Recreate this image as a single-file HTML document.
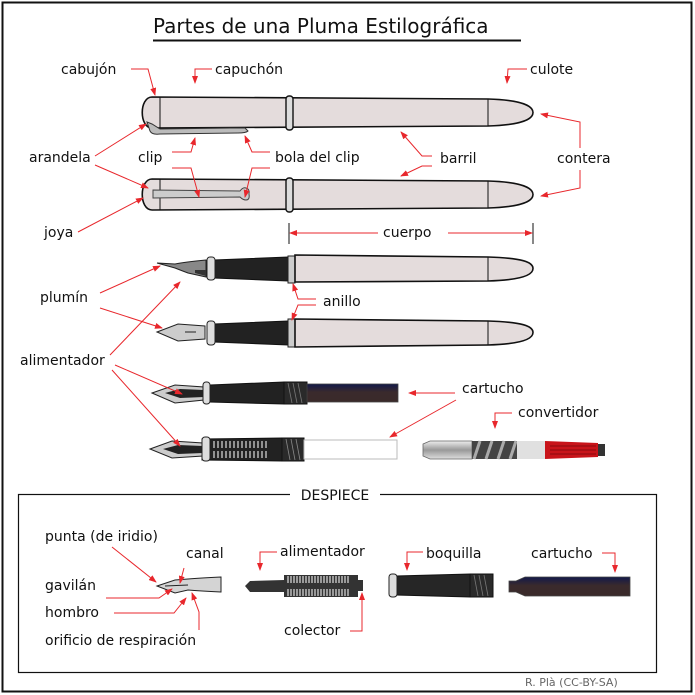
<!DOCTYPE html>
<html><head><meta charset="utf-8"><style>
html,body{margin:0;padding:0;background:#fff}
svg{display:block}
text{font-family:"DejaVu Sans","Liberation Sans",sans-serif;font-size:14px;fill:#111}
.a{fill:none;stroke:#e8272c;stroke-width:1;marker-end:url(#ah)}
.l{fill:none;stroke:#e8272c;stroke-width:1}
.pb{fill:#e4dcdc;stroke:#111;stroke-width:1.6}
</style></head><body>
<svg width="695" height="695" viewBox="0 0 695 695" xmlns="http://www.w3.org/2000/svg">
<defs>
<marker id="ah" markerWidth="8" markerHeight="6" refX="7" refY="3" orient="auto" markerUnits="userSpaceOnUse">
<path d="M0,0 L8,3 L0,6 Z" fill="#e8272c"/></marker>
<linearGradient id="cart" x1="0" y1="0" x2="0" y2="1"><stop offset="0" stop-color="#12194a"/><stop offset="0.45" stop-color="#3a2a2c"/><stop offset="1" stop-color="#3a2a2a"/></linearGradient>
<linearGradient id="met" x1="0" y1="0" x2="0" y2="1"><stop offset="0" stop-color="#eee"/><stop offset="0.5" stop-color="#999"/><stop offset="1" stop-color="#ddd"/></linearGradient>
</defs>
<rect x="2.5" y="2.5" width="689" height="689" fill="none" stroke="#111" stroke-width="2"/>

<text x="153" y="33" style="font-size:20px">Partes de una Pluma Estilográfica</text>
<line x1="153" y1="40.5" x2="521" y2="40.5" stroke="#111" stroke-width="2"/>

<!-- Pen 1 -->
<path class="pb" d="M152,97 L488,99 C522,100 533,106 533,112.5 C533,119 522,125 488,126 L152,128 C139,128 139,97 152,97 Z"/>
<line x1="160" y1="97" x2="160" y2="128" stroke="#111"/>
<line x1="488" y1="99" x2="488" y2="126" stroke="#111"/>
<rect x="286" y="96" width="7" height="34" rx="3" fill="#ddd" stroke="#111" stroke-width="1.4"/>
<path d="M147,122 L150,131 Q152,135 160,134 L238,133 Q246,133 248,131 L245,128 L230,128 L160,129 L152,124 Z" fill="#bbb" stroke="#333" stroke-width="1"/>

<!-- Pen 2 -->
<path class="pb" d="M152,179 L488,181 C522,182 533,188 533,194.5 C533,201 522,207 488,208 L152,210 C139,210 139,179 152,179 Z"/>
<line x1="160" y1="179" x2="160" y2="210" stroke="#111"/>
<line x1="488" y1="181" x2="488" y2="208" stroke="#111"/>
<rect x="286" y="178" width="7" height="34" rx="3" fill="#ddd" stroke="#111" stroke-width="1.4"/>
<path d="M153,190 L240,191 Q243,187 246,188 Q250,189 249,194 Q250,200 246,200 Q243,200 240,197 L153,198 Z" fill="#ccc" stroke="#444" stroke-width="1"/>

<!-- cuerpo -->
<line x1="289" y1="223" x2="289" y2="244" stroke="#111"/>
<line x1="533" y1="223" x2="533" y2="244" stroke="#111"/>
<line class="a" x1="378" y1="233" x2="290" y2="233"/>
<line class="a" x1="448" y1="233" x2="532" y2="233"/>

<!-- Pen 3 -->
<path d="M157,263 L175,264 Q185,262 206,260 L206,277 L188,273 Q180,270 175,268 Z" fill="#888" stroke="#222"/>
<path d="M195,270 L206,270 L206,276 L195,273 Z" fill="#333"/>
<path d="M214,260 L288,257 L288,281 L214,278 Z" fill="#222" stroke="#111"/>
<rect x="207" y="257" width="8" height="23" rx="3" fill="#ddd" stroke="#222"/>
<rect x="288" y="256" width="7" height="27" fill="#ccc" stroke="#222"/>
<path class="pb" d="M295,255 L488,257 C522,258 533,262 533,268.5 C533,275 522,280 488,281 L295,282 Z"/>
<line x1="488" y1="257" x2="488" y2="281" stroke="#111"/>

<!-- Pen 4 -->
<path d="M157,332 L178,324 L205,326 L205,339 L178,341 Z" fill="#ccc" stroke="#222"/>
<line x1="185" y1="332" x2="196" y2="332" stroke="#222"/>
<path d="M214,324 L288,321 L288,345 L214,342 Z" fill="#222" stroke="#111"/>
<rect x="207" y="321" width="8" height="24" rx="3" fill="#ddd" stroke="#222"/>
<rect x="288" y="319" width="7" height="28" fill="#ccc" stroke="#222"/>
<path class="pb" d="M295,319 L488,321 C522,322 533,326 533,332.5 C533,339 522,344 488,345 L295,347 Z"/>
<line x1="488" y1="321" x2="488" y2="345" stroke="#111"/>

<!-- Pen 5 -->
<path d="M152,393 L175,385 L204,387 L204,400 L175,403 Z" fill="#ccc" stroke="#222"/>
<path d="M165,393 L180,389 L204,390 L204,397 L180,398 Z" fill="#222"/>
<path d="M210,385 L284,382 L284,404 L210,402 Z" fill="#222" stroke="#111"/>
<rect x="203" y="382" width="7" height="22" rx="3" fill="#ddd" stroke="#222"/>
<rect x="284" y="382" width="23" height="22" fill="#2a2a2a" stroke="#111"/>
<path d="M288,383 l4,20 M293,383 l4,20 M298,383 l4,20" stroke="#777" stroke-width="0.8"/>
<rect x="307" y="384" width="91" height="18" fill="url(#cart)" stroke="#444" stroke-width="0.8"/>

<!-- Pen 6 -->
<path d="M150,449 L172,441 L203,443 L203,456 L172,458 Z" fill="#ccc" stroke="#222"/>
<path d="M163,449 L178,445 L203,446 L203,453 L178,454 Z" fill="#222"/>
<path d="M202,439 L282,438 L282,461 L202,460 Z" fill="#222" stroke="#111"/>
<rect x="202" y="437" width="8" height="24" rx="3" fill="#ddd" stroke="#222"/>
<path d="M214,441 v7 M218,441 v7 M222,441 v7 M226,441 v7 M230,441 v7 M234,441 v7 M238,441 v7 M242,441 v7 M246,441 v7 M250,441 v7 M254,441 v7 M258,441 v7 M262,441 v7 M266,441 v7 M214,451 v7 M218,451 v7 M222,451 v7 M226,451 v7 M230,451 v7 M234,451 v7 M238,451 v7 M242,451 v7 M246,451 v7 M250,451 v7 M254,451 v7 M258,451 v7 M262,451 v7 M266,451 v7" stroke="#ddd" stroke-width="1.2"/>
<rect x="282" y="438" width="22" height="23" fill="#2a2a2a" stroke="#111"/>
<path d="M286,439 l4,21 M291,439 l4,21 M296,439 l4,21" stroke="#888" stroke-width="0.8"/>
<rect x="304" y="440" width="93" height="19" fill="#fff" stroke="#bbb"/>

<!-- Converter -->
<path d="M423,444 L430,441 L472,441 L472,459 L430,459 L423,456 Z" fill="url(#met)" stroke="#666" stroke-width="0.8"/>
<rect x="472" y="441" width="46" height="18" fill="#444"/>
<path d="M480,441 l-6,18 M492,441 l-6,18 M504,441 l-6,18 M516,441 l-6,18" stroke="#aaa" stroke-width="3"/>
<rect x="517" y="441" width="28" height="18" fill="#e0e0e0"/>
<path d="M545,441 L598,443 L598,457 L545,459 Z" fill="#c8141a"/>
<path d="M550,446 H596 M550,450 H596 M550,454 H596" stroke="#8a0a0e" stroke-width="1"/>
<rect x="598" y="444" width="7" height="12" fill="#333"/>

<!-- labels -->
<text x="61" y="74">cabujón</text>
<text x="215" y="74">capuchón</text>
<text x="530" y="74">culote</text>
<text x="29" y="162">arandela</text>
<text x="138" y="162">clip</text>
<text x="275" y="162">bola del clip</text>
<text x="440" y="163">barril</text>
<text x="557" y="163">contera</text>
<text x="44" y="237">joya</text>
<text x="383" y="237">cuerpo</text>
<text x="40" y="302">plumín</text>
<text x="323" y="306">anillo</text>
<text x="20" y="365">alimentador</text>
<text x="462" y="393">cartucho</text>
<text x="518" y="417">convertidor</text>

<!-- arrows top -->
<polyline class="a" points="131,69 148,69 155,95"/>
<polyline class="a" points="212,69 195,69 195,83"/>
<polyline class="a" points="527,69 508,69 507,83"/>
<polyline class="a" points="580,148 580,122 541,114"/>
<polyline class="a" points="580,170 580,188 541,196"/>
<line class="a" x1="95" y1="156" x2="146" y2="124"/>
<line class="a" x1="95" y1="165" x2="148" y2="188"/>
<polyline class="a" points="172,152 191,152 195,138"/>
<polyline class="a" points="172,168 191,168 199,197"/>
<polyline class="a" points="270,152 252,152 245,136"/>
<polyline class="a" points="270,168 252,168 245,197"/>
<polyline class="a" points="432,156 422,156 401,132"/>
<polyline class="a" points="432,166 422,166 401,176"/>
<line class="a" x1="78" y1="232" x2="143" y2="198"/>
<line class="a" x1="100" y1="293" x2="160" y2="266"/>
<line class="a" x1="100" y1="308" x2="162" y2="328"/>
<polyline class="a" points="316,299 298,299 293,284"/>
<polyline class="a" points="316,305 298,305 292,320"/>
<line class="a" x1="110" y1="355" x2="180" y2="282"/>
<line class="a" x1="115" y1="365" x2="182" y2="394"/>
<line class="a" x1="112" y1="370" x2="180" y2="446"/>
<line class="a" x1="455" y1="393" x2="409" y2="393"/>
<line class="a" x1="456" y1="400" x2="390" y2="437"/>
<polyline class="a" points="512,413 495,413 495,428"/>

<!-- Despiece -->
<rect x="18.5" y="494.5" width="638" height="178" fill="none" stroke="#111" stroke-width="1.2"/>
<rect x="290" y="488" width="90" height="14" fill="#fff"/>
<text x="335" y="500" text-anchor="middle">DESPIECE</text>

<path d="M157,586 L175,580 L188,579 Q200,578 221,577 L221,592 Q200,591 188,590 L175,593 Z" fill="#d4d4d4" stroke="#222"/>
<line x1="165" y1="586" x2="188" y2="585" stroke="#222"/>
<path d="M245,586 L250,581 L284,580 L284,575 L358,575 L358,597 L284,597 L284,592 L250,592 Z" fill="#333"/>
<path d="M288,576 v7 M291,576 v7 M294,576 v7 M297,576 v7 M300,576 v7 M303,576 v7 M306,576 v7 M309,576 v7 M312,576 v7 M315,576 v7 M318,576 v7 M321,576 v7 M324,576 v7 M327,576 v7 M330,576 v7 M333,576 v7 M336,576 v7 M339,576 v7 M342,576 v7 M345,576 v7 M348,576 v7 M288,589 v7 M291,589 v7 M294,589 v7 M297,589 v7 M300,589 v7 M303,589 v7 M306,589 v7 M309,589 v7 M312,589 v7 M315,589 v7 M318,589 v7 M321,589 v7 M324,589 v7 M327,589 v7 M330,589 v7 M333,589 v7 M336,589 v7 M339,589 v7 M342,589 v7 M345,589 v7 M348,589 v7" stroke="#fff" stroke-width="1"/>
<rect x="358" y="580" width="5" height="11" fill="#333"/>
<path d="M396,576 L470,574 L470,597 L396,595 Z" fill="#262626" stroke="#111"/>
<rect x="389" y="574" width="8" height="23" rx="3" fill="#ddd" stroke="#222"/>
<rect x="470" y="574" width="23" height="23" fill="#2a2a2a" stroke="#111"/>
<path d="M474,575 l4,21 M479,575 l4,21 M484,575 l4,21" stroke="#777" stroke-width="0.8"/>
<path d="M509,581 L516,581 L525,577 L630,577 L630,596 L525,596 L516,592 L509,592 Z" fill="url(#cart)" stroke="#444" stroke-width="0.8"/>

<text x="45" y="541">punta (de iridio)</text>
<text x="186" y="558">canal</text>
<text x="280" y="556">alimentador</text>
<text x="426" y="558">boquilla</text>
<text x="531" y="558">cartucho</text>
<text x="45" y="590">gavilán</text>
<text x="45" y="617">hombro</text>
<text x="284" y="635">colector</text>
<text x="45" y="645">orificio de respiración</text>

<line class="a" x1="112" y1="547" x2="156" y2="582"/>
<line class="a" x1="184" y1="568" x2="180" y2="583"/>
<polyline class="a" points="106,598 159,598 172,589"/>
<polyline class="a" points="114,613 174,613 186,598"/>
<polyline class="a" points="199,630 199,612 192,593"/>
<polyline class="a" points="277,552 260,552 260,570"/>
<polyline class="a" points="350,631 362,631 362,593"/>
<polyline class="a" points="423,552 407,552 407,570"/>
<polyline class="a" points="602,553 615,553 615,572"/>

<text x="525" y="686" style="font-size:11px;fill:#666">R. Plà (CC-BY-SA)</text>
</svg>
</body></html>
